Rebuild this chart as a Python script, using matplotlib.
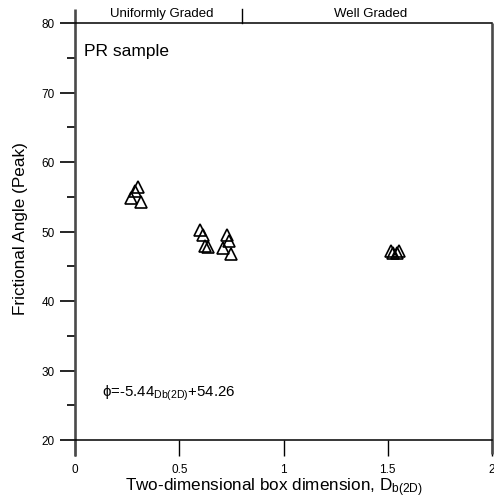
import matplotlib
matplotlib.use("Agg")
import matplotlib.pyplot as plt
from matplotlib.ticker import MultipleLocator, FixedLocator, FixedFormatter

plt.rcParams['font.family'] = ['Liberation Sans', 'DejaVu Sans']
plt.rcParams['mathtext.fontset'] = 'custom'
plt.rcParams['mathtext.rm'] = 'Liberation Sans'
plt.rcParams['mathtext.it'] = 'Liberation Sans'
plt.rcParams['mathtext.default'] = 'regular'

# Data
db_2d = [0.303, 0.290, 0.268, 0.316,
         0.601, 0.614, 0.624, 0.638, 0.729, 0.738, 0.710, 0.750,
         1.515, 1.552, 1.525, 1.545]
phi_peak = [56.45, 55.83, 54.82, 54.24,
            50.24, 49.54, 47.96, 47.73, 49.54, 48.59, 47.60, 46.76,
            47.20, 47.20, 46.90, 46.90]

x_ticks = [0, 0.5, 1, 1.5, 2]
x_tick_labels = ["0", "0.5", "1", "1.5", "2"]
y_ticks = [20, 30, 40, 50, 60, 70, 80]
band_split = 0.8
band_labels = ["Uniformly Graded", "Well Graded"]
band_label_x = [0.415, 1.42]

W, H = 494, 502
fig = plt.figure(figsize=(W / 100, H / 100), dpi=100)
ax_l, ax_r, ax_t, ax_b = 75, 492, 24, 441
ax = fig.add_axes([ax_l / W, 1 - ax_b / H, (ax_r - ax_l) / W, (ax_b - ax_t) / H])

ax.plot(db_2d, phi_peak, linestyle='none', marker='^', markersize=8.6,
        markerfacecolor='none', markeredgecolor='black', markeredgewidth=1.2,
        clip_on=False)

ax.set_xlim(0, 2)
ax.set_ylim(20, 80)

# spines
for s in ['left', 'right']:
    ax.spines[s].set_visible(False)
ax.spines['top'].set_linewidth(1.1)
ax.spines['bottom'].set_linewidth(1.1)
ah = ax_b - ax_t
ax.plot([0, 0], [1 + 14 / ah, -16 / ah], transform=ax.transAxes, color='#4a4a4a',
        lw=1.9, clip_on=False, solid_capstyle='butt')
ax.plot([1, 1], [1, -14 / ah], transform=ax.transAxes, color='#4a4a4a',
        lw=1.9, clip_on=False, solid_capstyle='butt')
ax.plot([band_split, band_split], [80, 80 + 14 / ah * 60], color='black', lw=1.0,
        clip_on=False)

ax.xaxis.set_major_locator(FixedLocator(x_ticks))
ax.xaxis.set_major_formatter(FixedFormatter(x_tick_labels))
ax.yaxis.set_major_locator(FixedLocator(y_ticks))
ax.yaxis.set_minor_locator(MultipleLocator(5))
ax.tick_params(axis='x', direction='out', length=11.5, width=1.0, pad=5.0,
               labelsize=8.5, color='black')
ax.tick_params(axis='y', which='major', direction='out', length=10.8, width=1.2,
               pad=4.0, labelsize=8.5)
ax.tick_params(axis='y', which='minor', direction='out', length=5.8, width=1.2)

for lbl, xb in zip(band_labels, band_label_x):
    ax.text(xb, 80 + 10.2 / ah * 60, lbl, ha='center', va='center', fontsize=9.5,
            clip_on=False)

ax.text(9 / ah, 1 - 32 / ah, "PR sample", transform=ax.transAxes, fontsize=12.5,
        ha='left', va='baseline')
ax.text(27 / ah, 1 - 373 / ah, r"$\phi$=-5.44$_{Db(2D)}$+54.26",
        transform=ax.transAxes, fontsize=10.8, ha='left', va='baseline')

fig.text(274 / W, 1 - 491 / H, r"Two-dimensional box dimension, D$_{b(2D)}$",
         ha='center', va='baseline', fontsize=12.3)
fig.text(21 / W, 1 - 229 / H, "Frictional Angle (Peak)", rotation=90,
         ha='center', va='center', fontsize=12.3)

fig.savefig("out.png", dpi=100)
